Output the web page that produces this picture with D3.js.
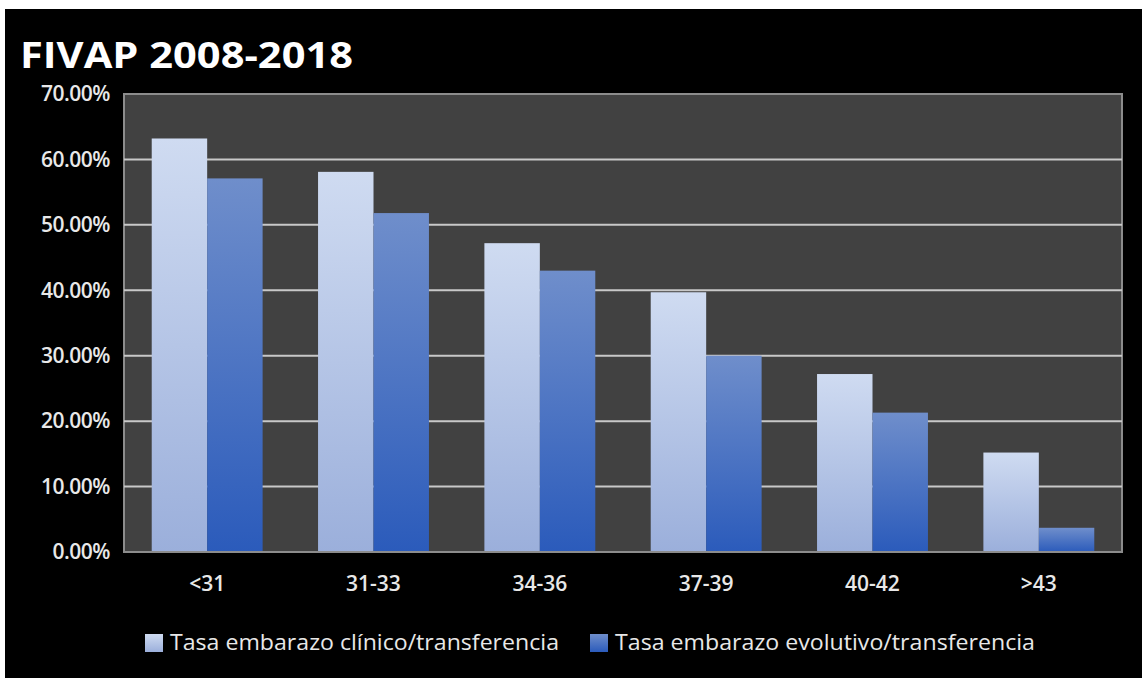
<!DOCTYPE html>
<html>
<head>
<meta charset="utf-8">
<script src="https://cdn.jsdelivr.net/npm/d3@7"></script>
<style>
  html, body { margin: 0; padding: 0; background: #fff; }
  svg { display: block; }
  text { font-family: "Open Sans", "DejaVu Sans", sans-serif; }
</style>
</head>
<body>
<div id="chart"></div>
<script>
// age groups and the two rates (fraction)
const categories = ["<31", "31-33", "34-36", "37-39", "40-42", ">43"];
const clinico = [0.632, 0.581, 0.472, 0.397, 0.272, 0.152];
const evolutivo = [0.571, 0.518, 0.430, 0.300, 0.213, 0.037];
const seriesNames = ["Tasa embarazo clínico/transferencia", "Tasa embarazo evolutivo/transferencia"];
const yTicks = [0, 0.1, 0.2, 0.3, 0.4, 0.5, 0.6, 0.7];

const width = 1142;
const height = 678;
const plot = { left: 124, top: 94, right: 1122, bottom: 552 };

const svg = d3.select("#chart").append("svg")
    .attr("width", width)
    .attr("height", height);

// black panel (a thin white strip shows at top/left)
svg.append("rect")
    .attr("x", 5).attr("y", 9)
    .attr("width", width - 5).attr("height", height - 9)
    .attr("fill", "#000");

// gradients for the two series
const defs = svg.append("defs");
const grads = [
    { id: "gLight", top: "#cfdbf1", bottom: "#9bafdb" },
    { id: "gDark", top: "#6f8ecb", bottom: "#2b5bbb" }
];
grads.forEach(g => {
    const lg = defs.append("linearGradient")
        .attr("id", g.id)
        .attr("x1", 0).attr("y1", 0).attr("x2", 0).attr("y2", 1);
    lg.append("stop").attr("offset", "0%").attr("stop-color", g.top);
    lg.append("stop").attr("offset", "100%").attr("stop-color", g.bottom);
});

// title
svg.append("text")
    .attr("x", 20)
    .attr("y", 68)
    .attr("fill", "#fff")
    .style("font-size", "36px")
    .style("font-weight", "700")
    .attr("textLength", 333)
    .attr("lengthAdjust", "spacingAndGlyphs")
    .text("FIVAP 2008-2018");

// scales
const x0 = d3.scaleBand()
    .domain(categories)
    .range([plot.left, plot.right])
    .paddingInner(1 / 3)
    .paddingOuter(1 / 6);

const x1 = d3.scaleBand()
    .domain([0, 1])
    .range([0, x0.bandwidth()]);

const y = d3.scaleLinear()
    .domain([0, 0.7])
    .range([plot.bottom, plot.top]);

// plot area
svg.append("rect")
    .attr("x", plot.left).attr("y", plot.top)
    .attr("width", plot.right - plot.left)
    .attr("height", plot.bottom - plot.top)
    .attr("fill", "#414141")
    .attr("stroke", "#8c8c8c")
    .attr("stroke-width", 2);

// gridlines
svg.append("g")
    .selectAll("line")
    .data(yTicks.filter(t => t > 0 && t < 0.7))
    .join("line")
    .attr("x1", plot.left).attr("x2", plot.right)
    .attr("y1", d => y(d)).attr("y2", d => y(d))
    .attr("stroke", "#c8c8c8")
    .attr("stroke-width", 2);

// bars
const rows = categories.map((c, i) => ({ cat: c, vals: [clinico[i], evolutivo[i]] }));

const groups = svg.append("g")
    .selectAll("g")
    .data(rows)
    .join("g")
    .attr("transform", d => `translate(${x0(d.cat)},0)`);

groups.selectAll("rect")
    .data(d => d.vals.map((v, k) => ({ k, v })))
    .join("rect")
    .attr("x", d => x1(d.k))
    .attr("y", d => y(d.v))
    .attr("width", x1.bandwidth())
    .attr("height", d => y(0) - y(d.v))
    .attr("fill", d => `url(#${grads[d.k].id})`);

// bottom axis line drawn over bars
svg.append("line")
    .attr("x1", plot.left).attr("x2", plot.right)
    .attr("y1", plot.bottom).attr("y2", plot.bottom)
    .attr("stroke", "#8c8c8c")
    .attr("stroke-width", 2);

// y labels
svg.append("g")
    .selectAll("text")
    .data(yTicks)
    .join("text")
    .attr("x", 110)
    .attr("y", d => y(d))
    .attr("dy", "0.35em")
    .attr("text-anchor", "end")
    .attr("fill", "#e8e8e8")
    .style("font-size", "21px")
    .style("font-weight", "600")
    .style("letter-spacing", "-0.5px")
    .text(d => d3.format(".2%")(d));

// x labels
svg.append("g")
    .selectAll("text")
    .data(categories)
    .join("text")
    .attr("x", d => x0(d) + x0.bandwidth() / 2)
    .attr("y", 584)
    .attr("dy", "0.35em")
    .attr("text-anchor", "middle")
    .attr("fill", "#e8e8e8")
    .style("font-size", "21px")
    .style("font-weight", "600")
    .text(d => d);

// legend
const legendX = [145, 590];
const legendLen = [389, 420];
const legend = svg.append("g")
    .selectAll("g")
    .data(seriesNames)
    .join("g")
    .attr("transform", (d, i) => `translate(${legendX[i]},634)`);

legend.append("rect")
    .attr("width", 18).attr("height", 18)
    .attr("fill", (d, i) => `url(#${grads[i].id})`);

legend.append("text")
    .attr("x", 25)
    .attr("y", 9)
    .attr("dy", "0.35em")
    .attr("fill", "#e8e8e8")
    .style("font-size", "21px")
    .attr("textLength", (d, i) => legendLen[i])
    .attr("lengthAdjust", "spacingAndGlyphs")
    .text(d => d);
</script>
</body>
</html>
